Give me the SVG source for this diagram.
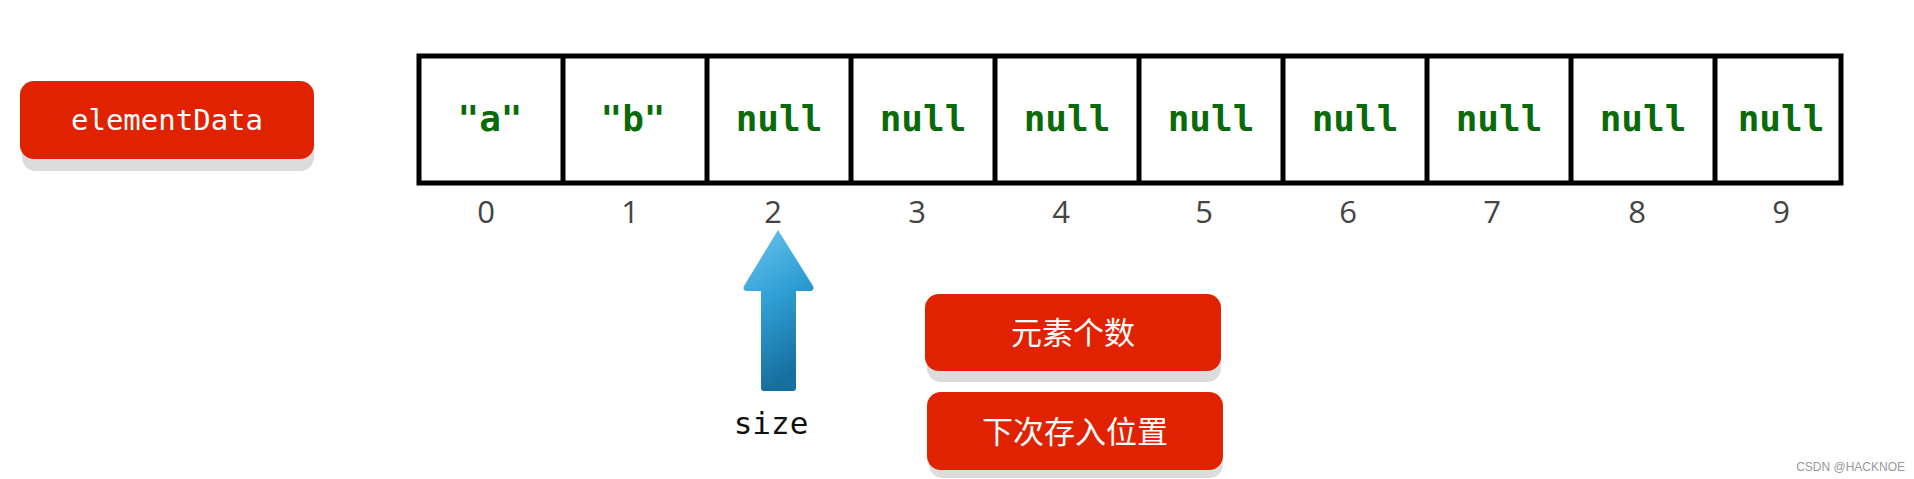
<svg xmlns="http://www.w3.org/2000/svg" width="1914" height="479" viewBox="0 0 1914 479">
<defs>
<linearGradient id="ag" x1="0" y1="0" x2="0.3" y2="1"><stop offset="0" stop-color="#6cc6f0"/><stop offset="0.5" stop-color="#2f9fd4"/><stop offset="1" stop-color="#176fa0"/></linearGradient>
</defs>
<style>
.rb{fill:#e02200}.sh{fill:#dcdcdc}
.wt{fill:#fff;font-family:"DejaVu Sans Mono",monospace;font-size:29px}
.zh{fill:#fff;font-family:"Noto Sans CJK SC",sans-serif;font-size:31px}
.cell{fill:#0a6a0a;font-family:"DejaVu Sans Mono",monospace;font-weight:bold;font-size:36px;text-anchor:middle}
.idx{fill:#444;font-family:"Open Sans","DejaVu Sans",sans-serif;font-size:31px;text-anchor:middle}
</style>
<rect width="1914" height="479" fill="#fff"/>
<g id="elementData">
<rect class="sh" x="22" y="92" width="292" height="79" rx="14"/>
<rect class="rb" x="20" y="81" width="294" height="78" rx="14"/>
<text class="wt" x="167" y="130" text-anchor="middle">elementData</text>
</g>
<g id="array" stroke="#000" stroke-width="5" fill="none">
<rect x="419" y="56" width="1422" height="127" fill="#fff"/>
<path d="M563 56V183M707 56V183M851 56V183M995 56V183M1139 56V183M1283 56V183M1427 56V183M1571 56V183M1715 56V183"/>
</g>
<g id="cells">
<text class="cell" x="490" y="131">"a"</text>
<text class="cell" x="633" y="131">"b"</text>
<text class="cell" x="779" y="131">null</text>
<text class="cell" x="923" y="131">null</text>
<text class="cell" x="1067" y="131">null</text>
<text class="cell" x="1211" y="131">null</text>
<text class="cell" x="1355" y="131">null</text>
<text class="cell" x="1499" y="131">null</text>
<text class="cell" x="1643" y="131">null</text>
<text class="cell" x="1781" y="131">null</text>
</g>
<g id="indices">
<text class="idx" x="486" y="223">0</text>
<text class="idx" x="630" y="223">1</text>
<text class="idx" x="773" y="223">2</text>
<text class="idx" x="917" y="223">3</text>
<text class="idx" x="1061" y="223">4</text>
<text class="idx" x="1204" y="223">5</text>
<text class="idx" x="1348" y="223">6</text>
<text class="idx" x="1492" y="223">7</text>
<text class="idx" x="1637" y="223">8</text>
<text class="idx" x="1781" y="223">9</text>
</g>
<g id="connectors">
<path d="M778 230L813 286Q815 291 809 291H796V388Q796 391 793 391H764Q761 391 761 388V291H748Q742 291 744 286Z" fill="url(#ag)"/>
</g>
<g id="size"><text x="771" y="434" text-anchor="middle" font-family="DejaVu Sans Mono,monospace" font-size="31" fill="#111">size</text></g>
<g id="count">
<rect class="sh" x="927" y="304" width="294" height="78" rx="14"/>
<rect class="rb" x="925" y="294" width="296" height="77" rx="14"/>
<text class="zh" x="1073" y="344" text-anchor="middle">元素个数</text>
</g>
<g id="next">
<rect class="sh" x="929" y="402" width="294" height="76" rx="14"/>
<rect class="rb" x="927" y="392" width="296" height="78" rx="14"/>
<text class="zh" x="1075" y="443" text-anchor="middle">下次存入位置</text>
</g>
<text x="1905" y="471" text-anchor="end" font-family="Liberation Sans,sans-serif" font-size="12" fill="#999">CSDN @HACKNOE</text>
</svg>
